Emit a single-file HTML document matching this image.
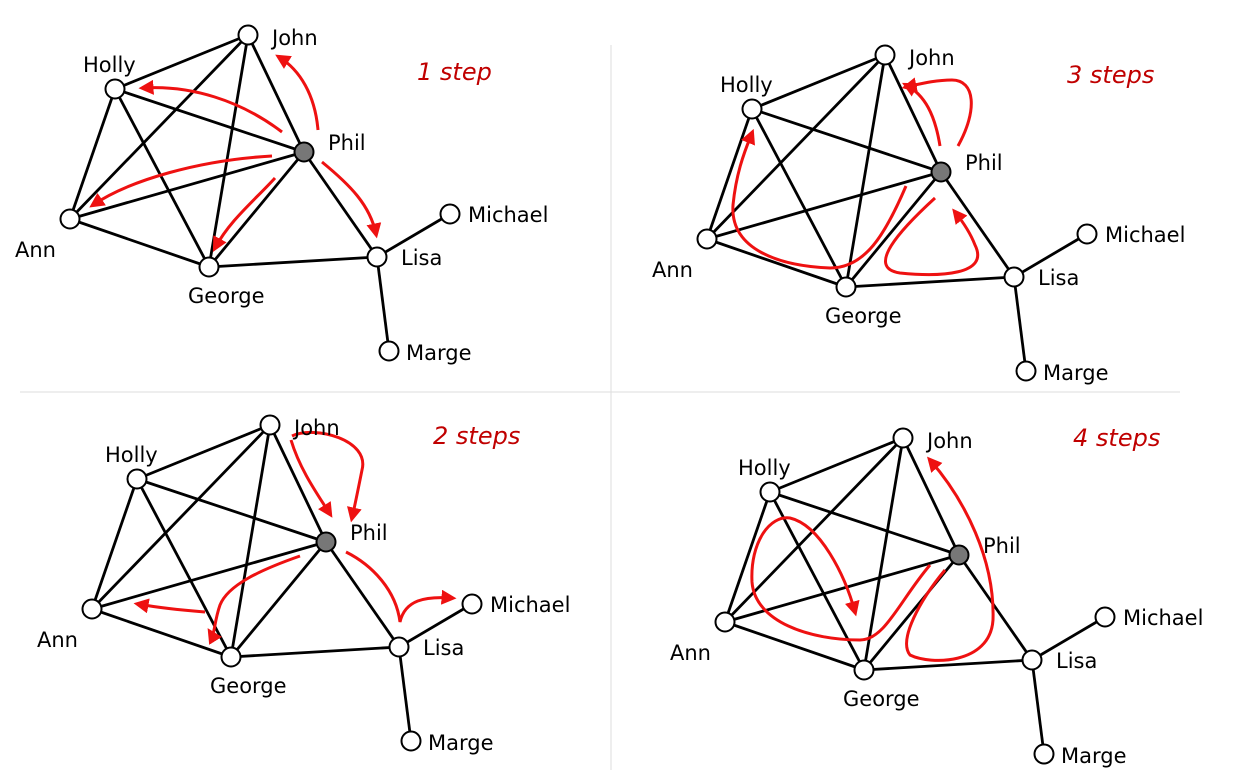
<!DOCTYPE html>
<html><head><meta charset="utf-8"><style>
html,body{margin:0;padding:0;background:#fff}
svg{display:block}
text{font-family:"DejaVu Sans","Liberation Sans",sans-serif}
</style></head><body>
<svg id="s" width="1256" height="779" viewBox="0 0 1256 779">
<defs><marker id="ah" viewBox="0 0 10 10" refX="7" refY="5" markerWidth="5" markerHeight="5" orient="auto"><path d="M0,0 L10,5 L0,10 Z" fill="#ee1111"/></marker></defs>
<line x1="611" y1="45" x2="611" y2="770" stroke="#dddddd" stroke-width="1"/>
<line x1="20" y1="392" x2="1180" y2="392" stroke="#dddddd" stroke-width="1"/>
</svg>
<script>
const names=["John","Holly","Phil","Ann","George","Lisa","Michael","Marge"];
const nodeX=[248,115,304,70,209,377,450,389];
const nodeY=[35,89,152,219,267,257,214,351];
const labelDX=[24,-32,24,-55,-21,24,18,17];
const labelDY=[10,-17,-2,38,36,8,8,9];
const edges=[[1,0],[1,2],[1,3],[1,4],[0,3],[0,4],[0,2],[3,2],[3,4],[4,2],[4,5],[2,5],[5,6],[5,7]];
const panelTitles=["1 step","3 steps","2 steps","4 steps"];
const panelOX=[0,637,22,655];
const panelOY=[0,20,390,403];
const titleX=[417,1067,433,1073];
const titleY=[80,83,444,446];
const arrows=[
 ["M318,130 C315,95 300,70 279,57","M282,132 C240,100 190,85 143,88","M272,156 C200,160 130,180 93,205","M275,178 C255,200 230,220 215,248","M322,162 C350,185 370,205 376,234"],
 ["M940,146 C935,115 925,95 906,85","M958,146 C978,110 975,80 952,80 C935,80 920,84 906,87","M906,186 C885,235 865,268 830,268 C780,266 730,250 733,205 C736,175 743,155 752,133","M935,198 C900,230 865,268 900,273 C940,277 990,275 975,245 C970,232 963,222 955,212"],
 ["M291,440 C300,470 318,495 330,514","M292,436 C315,425 370,440 362,470 C358,490 355,505 352,518","M300,556 C260,570 228,585 220,605 C213,625 215,640 210,632","M205,612 C180,610 160,608 138,604","M346,552 C372,565 396,590 400,622 C405,600 425,596 452,598"],
 ["M930,565 C900,600 885,640 860,640 C810,640 755,622 752,582 C750,542 770,515 790,518 C820,525 845,575 855,612","M945,570 C920,600 898,640 910,655 C930,665 990,665 993,620 C995,560 965,500 930,460"]
];
const svg=document.getElementById('s');
const NS="http://www.w3.org/2000/svg";
function mk(t,a){const e=document.createElementNS(NS,t);for(const k in a)e.setAttribute(k,a[k]);svg.appendChild(e);return e;}
for(let p=0;p<4;p++){
 const ox=panelOX[p],oy=panelOY[p];
 const tt=mk('text',{x:titleX[p],y:titleY[p],fill:'#c00000','font-size':24,'font-style':'italic'});
 tt.textContent=panelTitles[p];
 
 
 edges.forEach(([a,b])=>{
  const l=mk('line',{x1:nodeX[a]+ox,y1:nodeY[a]+oy,x2:nodeX[b]+ox,y2:nodeY[b]+oy,stroke:'#000','stroke-width':2.8});
  
  
 });
 arrows[p].forEach(d=>{
  const pa=mk('path',{d:d,fill:'none',stroke:'#ee1111','stroke-width':3,'marker-end':'url(#ah)'});
  
  
 });
 names.forEach((n,i)=>{
  const c=mk('circle',{cx:nodeX[i]+ox,cy:nodeY[i]+oy,r:9.5,fill:i==2?'#777':'#fff',stroke:'#000','stroke-width':2});
  
  
  const t=mk('text',{x:nodeX[i]+ox+labelDX[i],y:nodeY[i]+oy+labelDY[i],fill:'#000','font-size':21});
  t.textContent=n;
  
  
 });
}
</script>
</body></html>
